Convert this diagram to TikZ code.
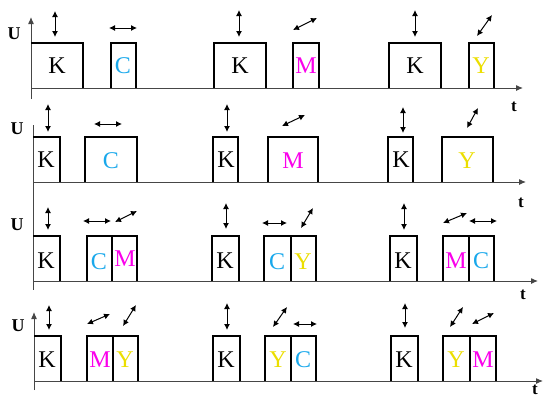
\documentclass[tikz,border=0pt]{standalone}
\usepackage{fontspec}
\setmainfont{Liberation Serif}
\usetikzlibrary{arrows.meta}

\definecolor{inkC}{RGB}{25,168,235}
\definecolor{inkM}{RGB}{250,0,235}
\definecolor{inkY}{RGB}{235,222,0}
\definecolor{axisgray}{RGB}{70,70,70}

\tikzset{
  axisline/.style={line width=1pt, draw=axisgray},
  axisarrow/.style={axisline, -{Latex[length=7pt,width=6pt]}},
  pulse/.style={line width=2.6pt, line join=miter, black},
  dbl/.style={line width=1pt, {Latex[length=6pt,width=6pt]}-{Latex[length=6pt,width=6pt]}},
  lab/.style={inner sep=0pt, font=\fontsize{24}{24}\selectfont},
  ulab/.style={inner sep=0pt, font=\fontsize{18}{18}\selectfont\bfseries},
  tlab/.style={inner sep=0pt, font=\fontsize{17}{17}\selectfont\bfseries},
}

% open-bottom pulse: left side, top, right side
\newcommand{\pulsebox}[4]{\draw[pulse] (#1,#4) -- (#1,#3) -- (#2,#3) -- (#2,#4);}
% two pulses sharing the middle edge
\newcommand{\pulsepair}[5]{%
  \draw[pulse] (#1,#5) -- (#1,#4) -- (#3,#4) -- (#3,#5);
  \draw[pulse] (#2,#4) -- (#2,#5);}
% first pulse of a row, its left side is the U axis
\newcommand{\pulsefirst}[4]{\draw[pulse] (#1,#3) -- (#2,#3) -- (#2,#4);}

\begin{document}
\begin{tikzpicture}[x=1pt,y=-1pt]
\useasboundingbox (0,0) rectangle (543,399);

%% ---------------- row 1 ----------------
\draw[axisarrow] (31,99) -- (31,17);
\draw[axisarrow] (31,88) -- (523,88);
\node[ulab] (u1) at (14,34) {U};
\node[tlab] (t1) at (514,107) {t};
\pulsefirst{31}{83}{43}{88}
\pulsebox{111}{136}{43}{88}
\pulsebox{214}{266}{43}{88}
\pulsebox{293}{319}{43}{88}
\pulsebox{389}{441}{43}{88}
\pulsebox{469}{494}{43}{88}
\node[lab] (k11) at (57,66) {K};
\node[lab, text=inkC] (c11) at (123,66) {C};
\node[lab] (k12) at (240,66) {K};
\node[lab, text=inkM] (m11) at (306,66) {M};
\node[lab] (k13) at (415,66) {K};
\node[lab, text=inkY] (y11) at (481,66) {Y};
\draw[dbl] (55,11) -- (55,37);
\draw[dbl] (109,28) -- (137,28);
\draw[dbl] (239,10) -- (239,37);
\draw[dbl] (293,30) -- (317,18);
\draw[dbl] (415,10) -- (415,37);
\draw[dbl] (477,36) -- (492,15);

%% ---------------- row 2 ----------------
\draw[axisline] (33,125) -- (33,198);
\draw[axisarrow] (33,182) -- (526,182);
\node[ulab] (u2) at (17,129) {U};
\node[tlab] (t2) at (521,203) {t};
\pulsefirst{33}{60}{137}{182}
\pulsebox{85}{137}{137}{182}
\pulsebox{213}{238}{137}{182}
\pulsebox{268}{318}{137}{182}
\pulsebox{388}{413}{137}{182}
\pulsebox{442}{493}{137}{182}
\node[lab] (k21) at (46,160) {K};
\node[lab, text=inkC] (c21) at (111,161) {C};
\node[lab] (k22) at (226,160) {K};
\node[lab, text=inkM] (m21) at (293,161) {M};
\node[lab] (k23) at (401,160) {K};
\node[lab, text=inkY] (y21) at (467,161) {Y};
\draw[dbl] (48,104) -- (48,132);
\draw[dbl] (94,124) -- (122,124);
\draw[dbl] (227,104) -- (227,132);
\draw[dbl] (282,126) -- (305,115);
\draw[dbl] (403,107) -- (403,133);
\draw[dbl] (467,128) -- (478,108);

%% ---------------- row 3 ----------------
\draw[axisline] (33,198) -- (33,290);
\draw[axisarrow] (33,281) -- (538,281);
\node[ulab] (u3) at (17,225) {U};
\node[tlab] (t3) at (523,295) {t};
\pulsefirst{33}{60}{236}{281}
\pulsepair{87}{112}{137}{236}{281}
\pulsebox{212}{239}{236}{281}
\pulsepair{264}{291}{316}{236}{281}
\pulsebox{390}{417}{236}{281}
\pulsepair{443}{469}{494}{236}{281}
\node[lab] (k31) at (46,261) {K};
\node[lab, text=inkC] (c31) at (99,262) {C};
\node[lab, text=inkM] (m31) at (125,259) {M};
\node[lab] (k32) at (225,261) {K};
\node[lab, text=inkC] (c32) at (277,262) {C};
\node[lab, text=inkY] (y31) at (303,262) {Y};
\node[lab] (k33) at (403,261) {K};
\node[lab, text=inkM] (m32) at (456,261) {M};
\node[lab, text=inkC] (c33) at (481,261) {C};
\draw[dbl] (48,207) -- (48,230);
\draw[dbl] (83,221) -- (111,221);
\draw[dbl] (115,222) -- (137,211);
\draw[dbl] (226,203) -- (226,229);
\draw[dbl] (262,223) -- (287,223);
\draw[dbl] (301,228) -- (313,208);
\draw[dbl] (404,203) -- (404,230);
\draw[dbl] (443,223) -- (467,213);
\draw[dbl] (469,221) -- (497,221);

%% ---------------- row 4 ----------------
\draw[axisarrow] (34,390) -- (34,312);
\draw[axisarrow] (34,381) -- (543,381);
\node[ulab] (u4) at (18,326) {U};
\node[tlab] (t4) at (535,390) {t};
\pulsefirst{34}{61}{336}{381}
\pulsepair{87}{113}{138}{336}{381}
\pulsebox{213}{240}{336}{381}
\pulsepair{265}{291}{316}{336}{381}
\pulsebox{391}{418}{336}{381}
\pulsepair{443}{470}{496}{336}{381}
\node[lab] (k41) at (47,360) {K};
\node[lab, text=inkM] (m41) at (100,360) {M};
\node[lab, text=inkY] (y41) at (125,360) {Y};
\node[lab] (k42) at (226,360) {K};
\node[lab, text=inkY] (y42) at (278,360) {Y};
\node[lab, text=inkC] (c41) at (303,360) {C};
\node[lab] (k43) at (404,360) {K};
\node[lab, text=inkY] (y43) at (456,360) {Y};
\node[lab, text=inkM] (m42) at (483,360) {M};
\draw[dbl] (49,305) -- (49,330);
\draw[dbl] (87,324) -- (110,314);
\draw[dbl] (123,326) -- (136,305);
\draw[dbl] (227,303) -- (227,330);
\draw[dbl] (273,327) -- (287,307);
\draw[dbl] (293,324) -- (317,324);
\draw[dbl] (405,303) -- (405,328);
\draw[dbl] (450,327) -- (463,307);
\draw[dbl] (472,324) -- (494,313);
\end{tikzpicture}
\end{document}
